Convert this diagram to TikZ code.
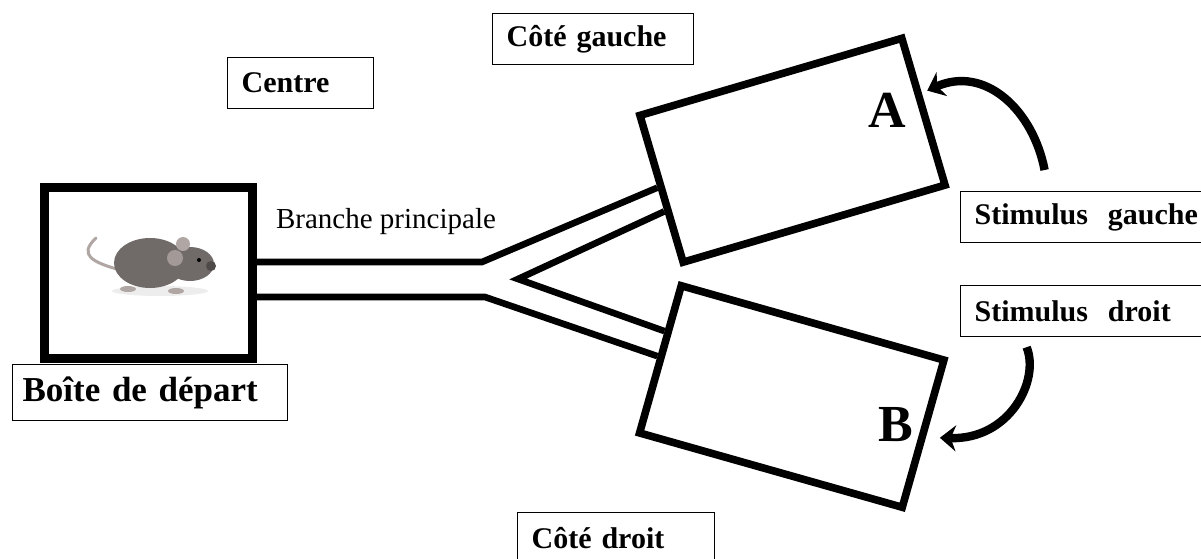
\documentclass[tikz,border=0pt]{standalone}
\usepackage{fontspec}
\setmainfont{Liberation Serif}
\usetikzlibrary{arrows.meta,calc}
\definecolor{mouse}{RGB}{112,106,105}
\definecolor{mouselight}{RGB}{176,166,164}

\begin{document}
\begin{tikzpicture}[x=0.5pt,y=-0.5pt,
	tag/.style={draw, line width=0.6pt, anchor=north west, align=left, inner xsep=7pt, text width=#1, minimum height=25.5pt, font=\fontsize{15}{18}\selectfont\bfseries},
	room/.style={draw, fill=white, line width=3.8pt, minimum width=136.5pt, minimum height=76.5pt},
	arm/.style={line width=3.3pt, line join=miter},
	cue/.style={line width=4.2pt, -{Stealth[length=8pt,width=13pt]}}]
	\useasboundingbox (0,0) rectangle (1201,558);

	% start box with the mouse
	\node (start) at (148.5,273) [draw, line width=4.5pt, minimum width=104pt, minimum height=85.75pt] {};
	\fill[black!7] (160,291) ellipse (48 and 5);
	\draw[mouselight, line width=1.5pt, line cap=round] (120,270) .. controls (92,262) and (78,255) .. (96,238);
	\fill[mouse] (150,263) ellipse (36 and 25);
	\fill[mouse] (190,264) ellipse (24 and 17);
	\fill[mouse!70!black] (211,266) circle (5);
	\fill[mouselight] (183,244) circle (7);
	\fill[mouselight!80!mouse] (175,258) circle (8);
	\fill[black] (199,260) circle (2);
	\fill[mouselight] (128,289) ellipse (8 and 3);
	\fill[mouselight] (176,291) ellipse (8 and 3);

	% arms
	\coordinate (forkT) at (482,262);
	\coordinate (forkB) at (485,297);
	\coordinate (tip) at (518,279);
	\node (roomA) at (792.5,150.25) [room, rotate=16.4] {};
	\node (roomB) at (791.75,396.5) [room, rotate=-15.8] {};
	\draw[arm] (start.east |- forkT) -- (forkT) -- ($(roomA.north west)!0.486!(roomA.south west)$);
	\draw[arm] (start.east |- forkB) -- (forkB) -- ($(roomB.north west)!0.486!(roomB.south west)$);
	\draw[arm] ($(roomA.north west)!0.64!(roomA.south west)$) -- (tip) -- ($(roomB.north west)!0.324!(roomB.south west)$);
	\node (labA) at (887,110) [font=\fontsize{26}{30}\selectfont\bfseries] {A};
	\node (labB) at (896,425) [font=\fontsize{26}{30}\selectfont\bfseries] {B};

	% labels
	\node (branch) at (386,228) [anchor=base, font=\fontsize{14.5}{17}\selectfont] {Branche principale};
	\node (centre) at (227,57) [tag=59pt] {Centre};
	\node (sideL) at (492,13) [tag=86.5pt] {Côté gauche};
	\node (sideR) at (517,512) [tag=84.5pt] {Côté droit};
	\node (depart) at (12,364) [tag=127.5pt, inner xsep=5pt, minimum height=28pt, font=\fontsize{17.5}{21}\selectfont\bfseries] {Boîte de départ};
	\node (stimG) at (960,191) [tag=116pt] {Stimulus~ gauche};
	\node (stimD) at (960,285) [tag=116pt] {Stimulus~ droit};

	% stimuli
	\draw[cue] ([xshift=-23pt,yshift=10.5pt]stimG.north) .. controls (1033,110) and (985,65) .. ($(roomA.north east)!0.37!(roomA.south east)+(6,0)$);
	\draw[cue] ([xshift=-32pt,yshift=-5pt]stimD.south) .. controls (1040,380) and (1010,440) .. ($(roomB.north east)!0.52!(roomB.south east)+(14,0)$);
\end{tikzpicture}
\end{document}
